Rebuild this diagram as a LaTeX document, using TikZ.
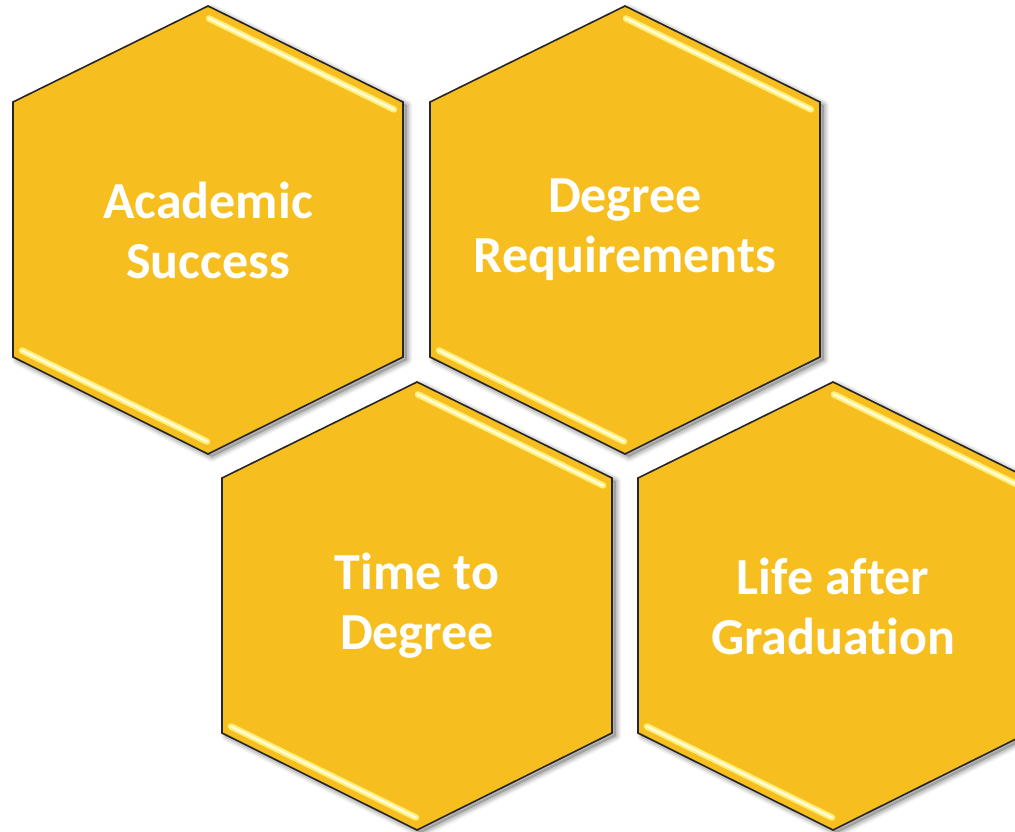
\documentclass[tikz,border=0pt]{standalone}
\usepackage{fontspec}
\newfontfamily\calib[Ligatures={NoCommon}]{Carlito}
\definecolor{hexgold}{RGB}{246,191,31}
\definecolor{hexlight}{RGB}{255,238,120}
\definecolor{hexcore}{RGB}{255,252,215}
\newcommand\hexpath{(0,-224) -- (195,-128) -- (195,127) -- (0,224) -- (-195,127) -- (-195,-128) -- cycle}
\newcommand\hexcell[4]{%
  \begin{scope}[shift={(#2,#3)}]
    \foreach \ww/\oo in {10/0.05,7/0.07,4/0.10}{
      \filldraw[black, opacity=\oo, line width=\ww pt, line join=round, shift={(4,3)}] \hexpath;
    }
    \filldraw[hexfill] \hexpath;
    \draw[glow] (1,-211.5) -- (186,-120.5);
    \draw[glowcore] (1,-211.5) -- (186,-120.5);
    \draw[glow] (-186,120.5) -- (-1,211.5);
    \draw[glowcore] (-186,120.5) -- (-1,211.5);
    \node[lbl] (#1) at (0,0) {#4};
  \end{scope}%
}
\begin{document}
\begin{tikzpicture}[x=1pt,y=-1pt,
  hexfill/.style={fill=hexgold, draw=black!85, line width=1.6pt, line join=miter},
  lbl/.style={text=white, font=\calib\bfseries\fontsize{52}{60}\selectfont, align=center, inner sep=0pt},
  glow/.style={line width=6.5pt, draw=hexlight, line cap=round},
  glowcore/.style={line width=2.4pt, draw=hexcore, line cap=round}]
\useasboundingbox (0,0) rectangle (1015,831);
\clip (0,0) rectangle (1015,831);
\hexcell{acad}{208}{230}{Academic\\Success}
\hexcell{degreq}{625}{230}{Degree\\Requirements}
\hexcell{time}{417}{606}{Time to\\Degree}
\hexcell{life}{833}{606}{Life after\\Graduation}
\end{tikzpicture}
\end{document}
